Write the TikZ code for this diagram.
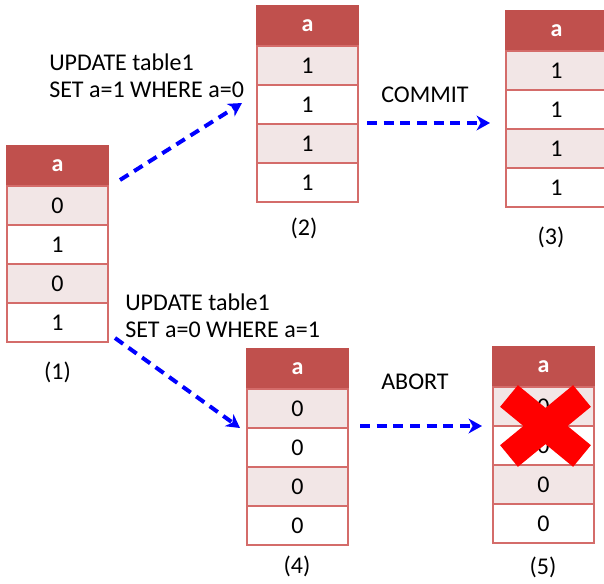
\documentclass[tikz,border=0pt]{standalone}
\usepackage{fontspec}
\setmainfont{Carlito}
\usetikzlibrary{arrows.meta,positioning}
\definecolor{tabHead}{RGB}{192,80,77}
\definecolor{tabPink}{RGB}{242,230,230}
\definecolor{tabLine}{RGB}{212,108,106}
\definecolor{txBlue}{RGB}{0,0,255}

\tikzset{
  cell/.style={draw=tabLine, line width=0.8pt, minimum width=75.75pt, minimum height=29.25pt,
    inner sep=0pt, outer sep=0pt, font=\fontsize{18}{21}\selectfont},
  headcell/.style={cell, fill=tabHead, draw=tabHead, minimum height=30pt, text=white,
    font=\bfseries\fontsize{18}{21}\selectfont},
  caption/.style={font=\fontsize{18}{20.25}\selectfont},
  stmt/.style={caption, anchor=west, align=left, inner sep=0pt},
  txn/.style={txBlue, line width=3pt, dash pattern=on 7.5pt off 5pt,
    -{Stealth[length=10pt,width=11pt,inset=3pt]}},
}

% one column table: name, top left corner, values
\newcommand{\dbtable}[3]{%
  \node[headcell, anchor=north west, alias=#1r0] (#1h) at (#2) {a};
  \foreach \val [count=\i] in {#3}{
    \pgfmathtruncatemacro\prev{\i-1}
    \ifodd\i\def\rowfill{tabPink}\else\def\rowfill{white}\fi
    \node[cell, fill=\rowfill, below=0pt of #1r\prev] (#1r\i) {\val};
  }%
}

\begin{document}
\begin{tikzpicture}[x=0.75pt,y=-0.75pt]
\clip (0,0) rectangle (604,583);

\dbtable{t1}{7,146}{0,1,0,1}
\dbtable{t2}{257,6}{1,1,1,1}
\dbtable{t3}{506,11}{1,1,1,1}
\dbtable{t4}{247,349}{0,0,0,0}
\dbtable{t5}{493,347}{0,0,0,0}

\node[caption] (c1) at (57.5,372) {(1)};
\node[caption] (c2) at (304,228) {(2)};
\node[caption] (c3) at (551,237) {(3)};
\node[caption] (c4) at (297,566) {(4)};
\node[caption] (c5) at (543,567) {(5)};

% statements
\node[stmt] (upd1) at (49,75.5) {UPDATE table1\\SET a=1 WHERE a=0};
\node[stmt] (upd2) at (125,316) {UPDATE table1\\SET a=0 WHERE a=1};
\node[caption] (commit) at (425,95) {COMMIT};
\node[caption] (abort) at (415,382) {ABORT};

% transitions
\coordinate (s1) at (120,180);
\coordinate (e1) at (242,103);
\coordinate (s2) at (367,123);
\coordinate (e2) at (490,123);
\coordinate (s3) at (115,338);
\coordinate (e3) at (240,428);
\coordinate (s4) at (360,426);
\coordinate (e4) at (482,426);
\draw[txn] (s1) -- (e1);
\draw[txn] (s2) -- (e2);
\draw[txn] (s3) -- (e3);
\draw[txn] (s4) -- (e4);

% rolled back
\draw[red, line width=21pt] (509,396) -- (582,456);
\draw[red, line width=21pt] (509,456) -- (582,396);
\end{tikzpicture}
\end{document}
